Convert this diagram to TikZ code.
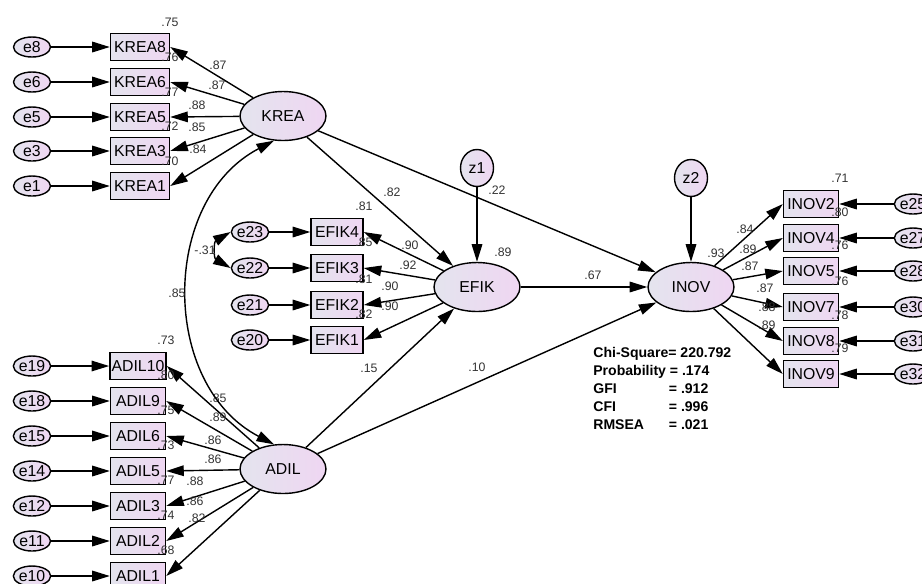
\documentclass[tikz,border=0pt]{standalone}
\usepackage{fontspec}
\setmainfont{Liberation Sans}
\usetikzlibrary{arrows.meta,shapes.geometric}
\definecolor{fillL}{HTML}{E4E4EE}
\definecolor{fillR}{HTML}{EFD6F2}
\definecolor{numgray}{HTML}{333333}

\begin{document}
\begin{tikzpicture}[x=0.02cm, y=-0.02cm,
  lat/.style={ellipse, draw, line width=0.8pt, left color=fillL, right color=fillR,
              minimum width=1.72cm, minimum height=0.98cm, font=\fontsize{9}{10}\selectfont},
  ind/.style={draw, line width=0.8pt, left color=fillL, right color=fillR,
              minimum width=1.1cm, minimum height=0.54cm, inner sep=1pt, font=\fontsize{9}{10}\selectfont},
  err/.style={ellipse, draw, line width=0.8pt, left color=fillL, right color=fillR,
              minimum width=0.74cm, minimum height=0.4cm, inner sep=0pt, font=\fontsize{9}{10}\selectfont},
  res/.style={err, minimum width=0.66cm, minimum height=0.74cm},
  num/.style={font=\fontsize{7}{8}\selectfont, text=numgray, inner sep=0pt},
  arr/.style={-{Triangle[length=10pt,width=6pt]}, line width=0.8pt},
  darr/.style={{Triangle[length=10pt,width=6pt]}-{Triangle[length=10pt,width=6pt]}, line width=0.8pt}]
  \useasboundingbox (0,0) rectangle (922,583);

  % latent variables
  \node[lat] (krea) at (283,116) {KREA};
  \node[lat] (adil) at (283,469) {ADIL};
  \node[lat] (efik) at (477,287) {EFIK};
  \node[lat] (inov) at (691,287) {INOV};
  \node[res] (z1) at (477,168) {z1};
  \node[res] (z2) at (691,178) {z2};

  % KREA
  \foreach \n/\y/\rr/\lo/\lx/\ly in {8/47/.75/.87/218/65, 6/82/.76/.87/217/85,
      5/117/.77/.88/197/105, 3/151/.72/.85/197/127, 1/186/.70/.84/198/149} {
    \node[err] (e\n) at (32,\y) {e\n};
    \node[ind, minimum width=1.18cm] (krea\n) at (140,\y) {KREA\n};
    \draw[arr] (e\n) -- (krea\n);
    \draw[arr] (krea) -- (krea\n.east);
    \node[num] (rk\n) at (170,\y-25) {\rr};
    \node[num] (lk\n) at (\lx,\ly) {\lo};
  }

  % EFIK
  \foreach \n/\e/\y/\rr/\lo/\lx/\ly in {4/23/232/.81/.90/410/245, 3/22/268/.85/.92/408/265,
      2/21/305/.81/.90/390/286, 1/20/340/.82/.90/390/306} {
    \node[err] (e\e) at (250,\y) {e\e};
    \node[ind, minimum width=1.04cm] (efik\n) at (337,\y) {EFIK\n};
    \draw[arr] (e\e) -- (efik\n);
    \draw[arr] (efik) -- (efik\n.east);
    \node[num] (re\n) at (364,\y-26) {\rr};
    \node[num] (le\n) at (\lx,\ly) {\lo};
  }

  % ADIL
  \foreach \n/\e/\y/\rr/\lo/\lx/\ly in {10/19/366/.73/.85/218/398, 9/18/401/.80/.89/218/417,
      6/15/436/.75/.86/213/440, 5/14/471/.73/.86/213/459, 3/12/506/.77/.88/195/481,
      2/11/541/.74/.86/195/501, 1/10/576/.68/.82/197/518} {
    \node[err] (e\e) at (32,\y) {e\e};
    \node[ind] (adil\n) at (138,\y) {ADIL\n};
    \draw[arr] (e\e) -- (adil\n);
    \draw[arr] (adil) -- (adil\n.east);
    \node[num] (ra\n) at (166,\y-26) {\rr};
    \node[num] (la\n) at (\lx,\ly) {\lo};
  }

  % INOV
  \foreach \n/\e/\y/\rr/\lo/\lx/\ly in {2/25/204/.71/.84/745/229, 4/27/238/.80/.89/748/249,
      5/28/271/.76/.87/750/266, 7/30/307/.76/.87/765/288, 8/31/341/.78/.88/767/307,
      9/32/374/.79/.89/767/325} {
    \node[err] (e\e) at (913,\y) {e\e};
    \node[ind] (inov\n) at (811,\y) {INOV\n};
    \draw[arr] (e\e) -- (inov\n);
    \draw[arr] (inov) -- (inov\n.west);
    \node[num] (ri\n) at (840,\y-26) {\rr};
    \node[num] (li\n) at (\lx,\ly) {\lo};
  }

  % structural paths
  \draw[arr] (krea) -- (efik);
  \draw[arr] (krea) -- (inov);
  \draw[arr] (adil) -- (efik);
  \draw[arr] (adil) -- (inov);
  \draw[arr] (efik) -- (inov);
  \draw[arr] (z1) -- (efik);
  \draw[arr] (z2) -- (inov);
  \draw[darr] (krea.250) .. controls (160,200) and (160,385) .. (adil.110);
  \draw[darr] (e23.west) to[out=210, in=150, looseness=1.4] (e22.west);

  \node[num] (pke) at (392,192) {.82};
  \node[num] (pki) at (497,190) {.22};
  \node[num] (pae) at (369,368) {.15};
  \node[num] (pai) at (477,367) {.10};
  \node[num] (pei) at (593,275) {.67};
  \node[num] (r2e) at (503,252) {.89};
  \node[num] (r2i) at (716,253) {.93};
  \node[num] (cka) at (177,293) {.85};
  \node[num] (cee) at (205,250) {-.31};

  \node[anchor=north west, align=left, inner sep=0pt,
        font=\bfseries\fontsize{8}{10.2}\selectfont] (fit) at (593,347)
    {Chi-Square= 220.792\\Probability = .174\\\makebox[43pt][l]{GFI}= .912\\
     \makebox[43pt][l]{CFI}= .996\\\makebox[43pt][l]{RMSEA}= .021};
\end{tikzpicture}
\end{document}
